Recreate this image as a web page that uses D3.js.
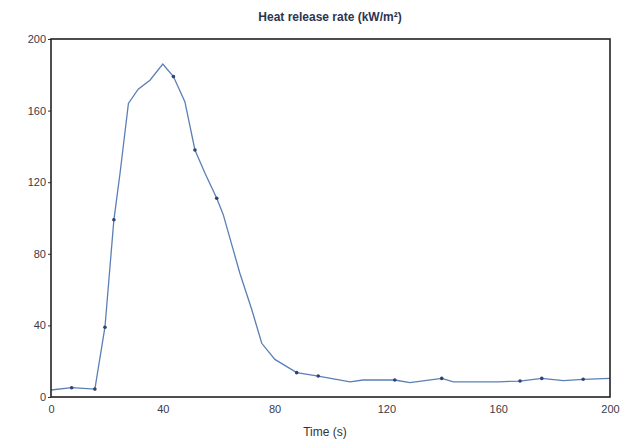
<!DOCTYPE html>
<html>
<head>
<meta charset="utf-8">
<script src="https://cdn.jsdelivr.net/npm/d3@7"></script>
<style>
  body { margin: 0; background: #fff; }
  svg text { font-family: "Liberation Sans", Arial, sans-serif; }
</style>
</head>
<body>
<div id="vis"></div>
<script>
// 数据：时间 (s) 与热释放速率 (kW/m²)
const times = [0, 7.4, 15.7, 19.3, 22.5, 24.7, 27.7, 31.2, 35.4, 40, 43.8, 47.9, 51.5, 55.1, 59.3, 61.6,
    67.6, 71.8, 75.4, 80.1, 87.9, 95.6, 107, 111.6, 123, 128.4, 139.8, 144, 160, 167.8, 175.6, 183.3, 190.4, 200];
const hrr = [3.9, 5.2, 4.4, 39, 99, 125, 164, 172, 177, 186, 179, 165, 138, 125, 111, 102,
    69, 49, 30, 21, 13.6, 11.7, 8.5, 9.5, 9.5, 8, 10.4, 8.5, 8.5, 8.9, 10.4, 9.1, 9.9, 10.4];
// 带点标记的数据索引
const markerIdx = [1, 2, 3, 4, 10, 12, 14, 20, 21, 24, 26, 29, 30, 32];
const xTicks = [0, 40, 80, 120, 160, 200];
const yTicks = [0, 40, 80, 120, 160, 200];

const data = times.map((t, i) => ({t: t, v: hrr[i]}));

// 尺寸与边距
const W = 621, H = 442;
const margin = {top: 39, right: 11, bottom: 45, left: 51},
    width = W - margin.left - margin.right,
    height = H - margin.top - margin.bottom;

const svg = d3.select("#vis").append("svg")
    .attr("width", W)
    .attr("height", H);

const g = svg.append("g")
    .attr("transform", "translate(" + margin.left + "," + margin.top + ")");

const x = d3.scaleLinear().domain([0, 200]).range([0, width]);
const y = d3.scaleLinear().domain([0, 200]).range([height, 0]);

// x轴
g.append("g")
    .attr("transform", "translate(0," + height + ")")
    .call(d3.axisBottom(x).tickValues(xTicks).tickSize(0).tickPadding(8))
    .call(a => a.select(".domain").remove())
    .selectAll("text")
    .attr("fill", "#3a3a4a")
    .style("font-size", "11px");

// y轴
g.append("g")
    .call(d3.axisLeft(y).tickValues(yTicks).tickSize(3).tickPadding(2))
    .call(a => a.select(".domain").remove())
    .call(a => a.selectAll("line").attr("stroke", "#333"))
    .selectAll("text")
    .attr("fill", "#3a3a4a")
    .style("font-size", "11px");

// 曲线
const line = d3.line().x(d => x(d.t)).y(d => y(d.v));
g.append("path")
    .datum(data)
    .attr("fill", "none")
    .attr("stroke", "#5b7fb5")
    .attr("stroke-width", 1.3)
    .attr("d", line);

g.selectAll(".pt")
    .data(markerIdx.map(i => data[i]))
  .enter().append("circle")
    .attr("class", "pt")
    .attr("cx", d => x(d.t))
    .attr("cy", d => y(d.v))
    .attr("r", 1.8)
    .attr("fill", "#2d4370");

// 外框
g.append("rect")
    .attr("width", width)
    .attr("height", height)
    .attr("fill", "none")
    .attr("stroke", "#222")
    .attr("stroke-width", 1.6);

// 标题
svg.append("text")
    .attr("x", 330)
    .attr("y", 21)
    .attr("text-anchor", "middle")
    .attr("fill", "#2c3550")
    .style("font-size", "12px")
    .style("font-weight", "bold")
    .text("Heat release rate (kW/m²)");

svg.append("text")
    .attr("x", 325)
    .attr("y", 436)
    .attr("text-anchor", "middle")
    .attr("fill", "#333")
    .style("font-size", "12px")
    .text("Time (s)");
</script>
</body>
</html>
